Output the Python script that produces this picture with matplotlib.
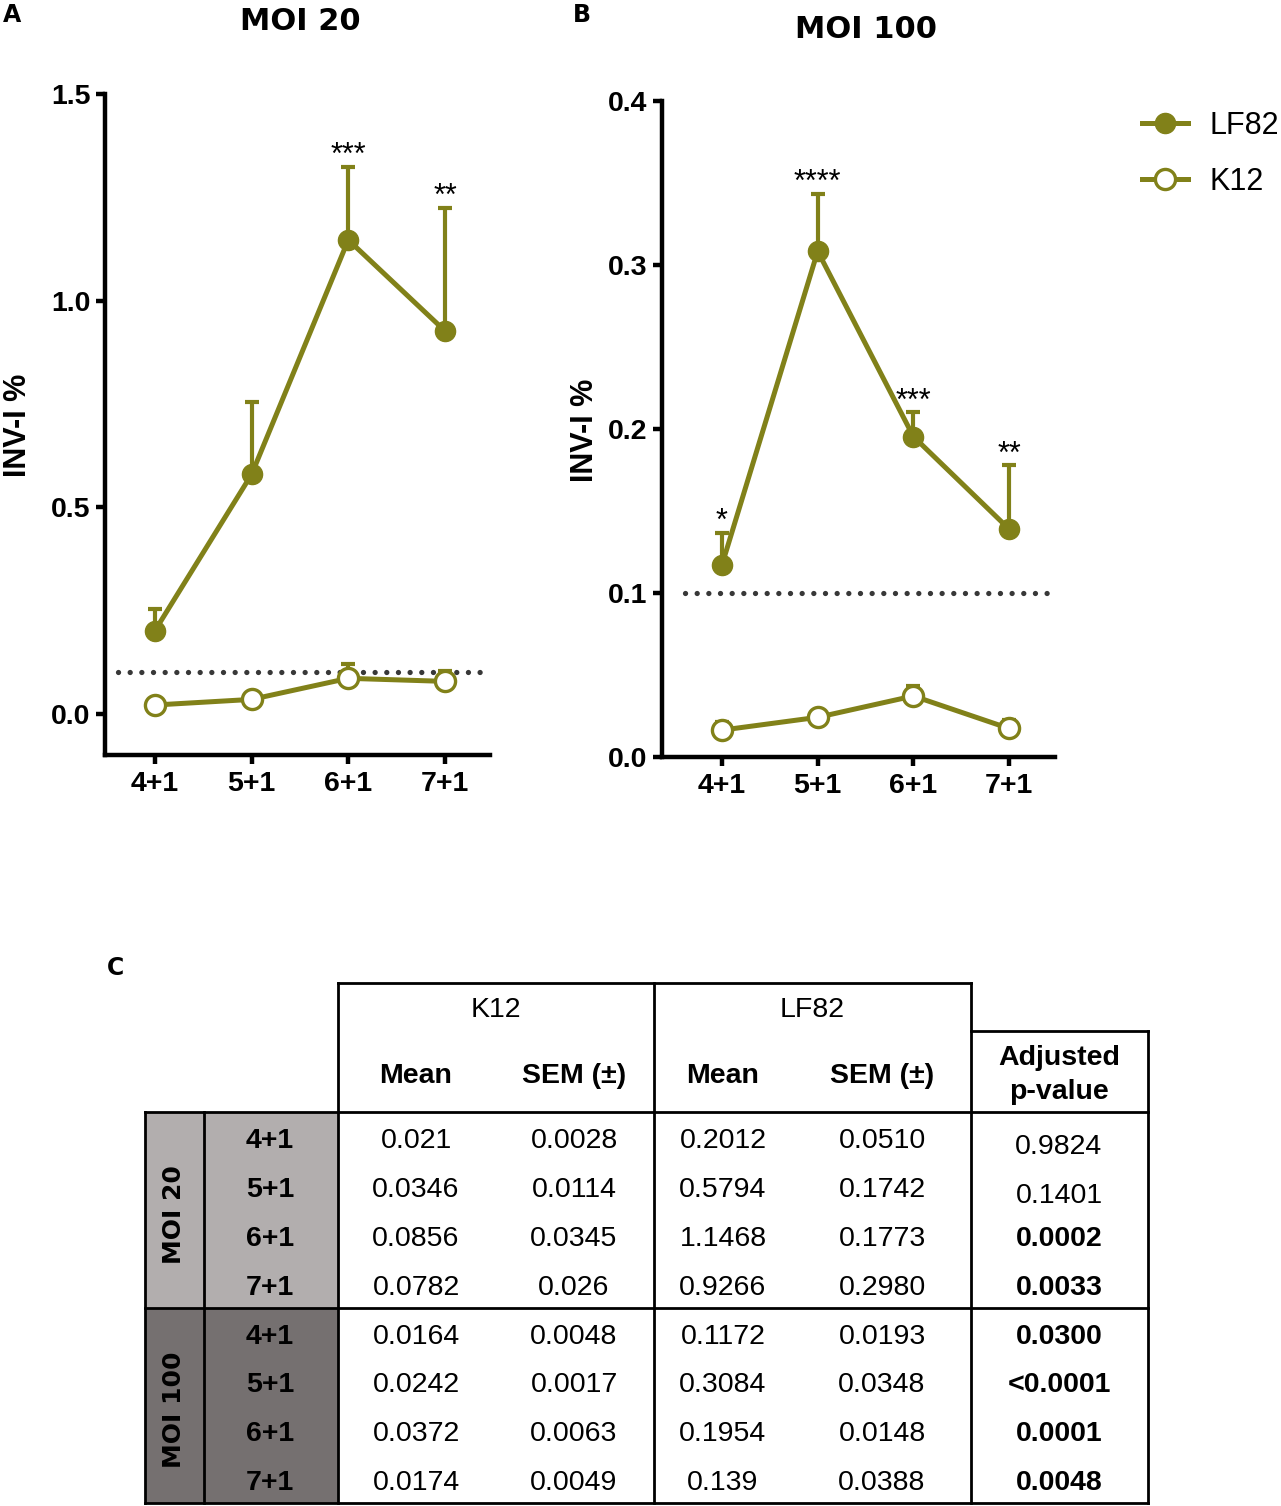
import numpy as np
import matplotlib.pyplot as plt
from matplotlib.patches import Rectangle

timepoints = ['4+1', '5+1', '6+1', '7+1']
moi_names = ['MOI 20', 'MOI 100']
strains = ['K12', 'LF82']

k12_mean_moi20 = ['0.021', '0.0346', '0.0856', '0.0782']
k12_sem_moi20 = ['0.0028', '0.0114', '0.0345', '0.026']
lf82_mean_moi20 = ['0.2012', '0.5794', '1.1468', '0.9266']
lf82_sem_moi20 = ['0.0510', '0.1742', '0.1773', '0.2980']
pval_moi20 = ['0.9824', '0.1401', '0.0002', '0.0033']
stars_moi20 = ['', '', '***', '**']

k12_mean_moi100 = ['0.0164', '0.0242', '0.0372', '0.0174']
k12_sem_moi100 = ['0.0048', '0.0017', '0.0063', '0.0049']
lf82_mean_moi100 = ['0.1172', '0.3084', '0.1954', '0.139']
lf82_sem_moi100 = ['0.0193', '0.0348', '0.0148', '0.0388']
pval_moi100 = ['0.0300', '<0.0001', '0.0001', '0.0048']
stars_moi100 = ['*', '****', '***', '**']

threshold = 0.1

OLIVE = '#818119'
W, H = 1281, 1506
BOLD = dict(family='Liberation Sans', weight='bold')

fig = plt.figure(figsize=(W / 100, H / 100), dpi=100)


def px_axes(x0, y0, x1, y1):
    # figure-pixel box (top-left origin) -> axes
    return fig.add_axes([x0 / W, 1 - y1 / H, (x1 - x0) / W, (y1 - y0) / H])


def f(vals):
    return np.array([float(v) for v in vals])


def draw_panel(ax, k_mean, k_sem, l_mean, l_sem, stars, ylim, yticks, xlim, dot_start):
    x = np.arange(len(timepoints))
    k_mean, k_sem, l_mean, l_sem = f(k_mean), f(k_sem), f(l_mean), f(l_sem)

    ax.plot([dot_start, xlim[1]], [threshold, threshold], color='#383838', lw=3.8,
            dashes=(0.01, 2.2), dash_capstyle='round', zorder=1)

    for m, s in [(l_mean, l_sem), (k_mean, k_sem)]:
        ax.errorbar(x, m, yerr=[np.zeros_like(s), s], fmt='none', ecolor=OLIVE,
                    elinewidth=3, capsize=5, capthick=3, zorder=2)
    ax.plot(x, l_mean, '-o', color=OLIVE, lw=3.6, ms=14.5, mfc=OLIVE, mec=OLIVE,
            zorder=3, label='LF82')
    ax.plot(x, k_mean, '-o', color=OLIVE, lw=3.6, ms=14.5, mfc='white', mec=OLIVE,
            mew=2.4, zorder=3, label='K12')

    for xi, top, st in zip(x, l_mean + l_sem, stars):
        if st:
            ax.annotate(st, (xi, top), xytext=(0, -3), textcoords='offset points',
                        ha='center', va='bottom', fontsize=22, family='Liberation Sans')

    ax.set_xlim(*xlim)
    ax.set_ylim(*ylim)
    ax.set_xticks(x)
    ax.set_xticklabels(timepoints)
    ax.set_yticks(yticks)
    ax.set_yticklabels([f'{t:.1f}' for t in yticks])
    for sp in ['top', 'right']:
        ax.spines[sp].set_visible(False)
    for sp in ['left', 'bottom']:
        ax.spines[sp].set_linewidth(3.2)
    ax.tick_params(width=3.2, length=6.5)
    ax.tick_params(axis='y', pad=4)
    ax.tick_params(axis='x', pad=5)
    for lab in ax.get_xticklabels() + ax.get_yticklabels():
        lab.set_fontproperties('Liberation Sans')
        lab.set_fontweight('bold')
        lab.set_fontsize(20.5)
    ax.patch.set_alpha(0)


# ---- panel A ----
axA = px_axes(105, 94, 490, 755)
draw_panel(axA, k12_mean_moi20, k12_sem_moi20, lf82_mean_moi20, lf82_sem_moi20,
           stars_moi20, (-0.1, 1.5), [0.0, 0.5, 1.0, 1.5], (-0.517, 3.466), -0.38)

# ---- panel B ----
axB = px_axes(662, 101, 1055, 757)
draw_panel(axB, k12_mean_moi100, k12_sem_moi100, lf82_mean_moi100, lf82_sem_moi100,
           stars_moi100, (0, 0.4), [0.0, 0.1, 0.2, 0.3, 0.4], (-0.627, 3.48), -0.39)

handles, labels = axB.get_legend_handles_labels()
fig.legend(handles, labels, loc='center left', bbox_to_anchor=(1142 / W, 1 - 154 / H),
           frameon=False, handlelength=1.5, handletextpad=0.7,
           labelspacing=0.85, borderpad=0, borderaxespad=0,
           prop=dict(family='Liberation Sans', size=22))

fig.text(300 / W, 1 - 21 / H, moi_names[0], ha='center', va='center', fontsize=22,
         family='DejaVu Sans', weight='bold')
fig.text(866 / W, 1 - 29 / H, moi_names[1], ha='center', va='center', fontsize=22,
         family='DejaVu Sans', weight='bold')
fig.text(18 / W, 1 - 425 / H, 'INV-I %', rotation=90, ha='center', va='center',
         fontsize=22, **BOLD)
fig.text(585 / W, 1 - 430 / H, 'INV-I %', rotation=90, ha='center', va='center',
         fontsize=22, **BOLD)
for lab, (px, py) in zip('ABC', [(12, 15), (582, 15), (115, 968)]):
    fig.text(px / W, 1 - py / H, lab, ha='center', va='center', fontsize=17,
             family='DejaVu Sans', weight='bold')

# ---- panel C: table ----
tab = fig.add_axes([0, 0, 1, 1])
tab.set_xlim(0, W)
tab.set_ylim(H, 0)
tab.axis('off')

tab.add_patch(Rectangle((145, 1112), 193, 196, color='#b2aeae', lw=0, zorder=0))
tab.add_patch(Rectangle((145, 1308), 193, 195, color='#757070', lw=0, zorder=0))

LW = 2
segs = [
    ((338, 971), (983, 983)),
    ((971, 1148), (1031, 1031)),
    ((145, 1148), (1112, 1112)),
    ((145, 1148), (1308, 1308)),
    ((145, 1148), (1503, 1503)),
    ((145, 145), (1112, 1503)),
    ((204, 204), (1112, 1503)),
    ((338, 338), (983, 1503)),
    ((654, 654), (983, 1503)),
    ((971, 971), (983, 1503)),
    ((1148, 1148), (1031, 1503)),
]
for xs, ys in segs:
    tab.plot(xs, ys, color='black', lw=LW, solid_capstyle='projecting', zorder=2)

TS = 20.5
tab.text(496, 1010, strains[0], ha='center', va='center', fontsize=TS, family='Liberation Sans')
tab.text(812, 1010, strains[1], ha='center', va='center', fontsize=TS, family='Liberation Sans')
for cx, lab in zip([416, 574, 723, 882], ['Mean', 'SEM (±)', 'Mean', 'SEM (±)']):
    tab.text(cx, 1076, lab, ha='center', va='center', fontsize=TS, **BOLD)
tab.text(1059, 1075, 'Adjusted\np-value', ha='center', va='center', fontsize=TS,
         linespacing=1.4, **BOLD)

col_x = [416, 574, 723, 882]
blocks = [
    (k12_mean_moi20, k12_sem_moi20, lf82_mean_moi20, lf82_sem_moi20, pval_moi20),
    (k12_mean_moi100, k12_sem_moi100, lf82_mean_moi100, lf82_sem_moi100, pval_moi100),
]
row = 0
for b, cols in enumerate(blocks):
    ys = [1141 + 48.9 * (row + i) for i in range(len(timepoints))]
    tab.text(174, np.mean(ys), moi_names[b], rotation=90, ha='center', va='center',
             fontsize=18, family='DejaVu Sans', weight='bold')
    for i, tp in enumerate(timepoints):
        y = ys[i]
        tab.text(270, y, tp, ha='center', va='center', fontsize=TS, **BOLD)
        for cx, vals in zip(col_x, cols[:4]):
            tab.text(cx, y, vals[i], ha='center', va='center', fontsize=TS,
                     family='Liberation Sans')
        p = cols[4][i]
        sig = float(p.lstrip('<')) < 0.05
        tab.text(1059, y if sig else y + 6, p, ha='center', va='center', fontsize=TS,
                 family='Liberation Sans', weight='bold' if sig else 'normal')
    row += len(timepoints)

fig.savefig('out.png', dpi=100)
